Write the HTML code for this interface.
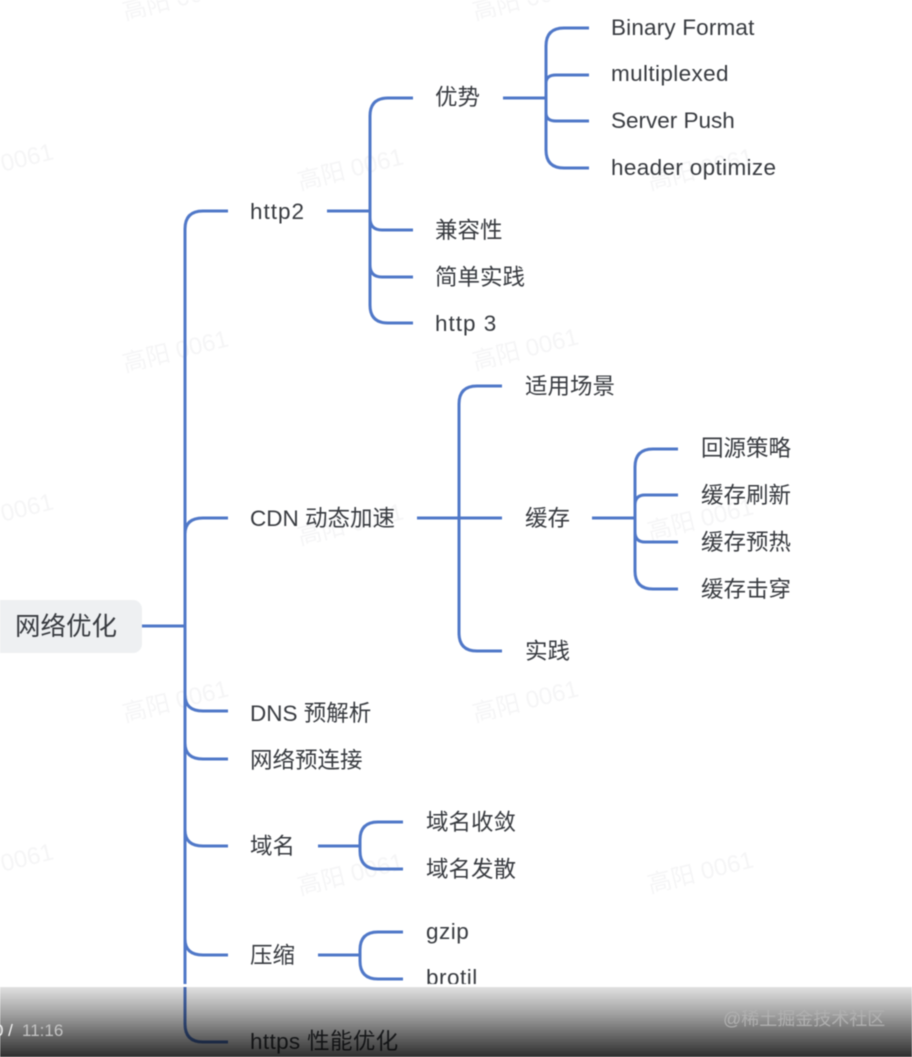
<!DOCTYPE html>
<html>
<head>
<meta charset="utf-8">
<style>
html,body{margin:0;padding:0;background:#fff;width:912px;height:1057px;overflow:hidden}
svg{display:block;position:absolute;left:0;top:0}
.d{filter:blur(.55px)}
.l{fill:none;stroke:#5078c8;stroke-width:3}
.t text{font-family:"Liberation Sans","Noto Sans CJK SC",sans-serif;font-size:22.5px;fill:#383b40}
.w text{font-family:"Liberation Sans","Noto Sans CJK SC",sans-serif;font-size:24px;fill:#f5f5f6}
.o text{font-family:"Liberation Sans","Noto Sans CJK SC",sans-serif}
</style>
</head>
<body>
<svg class="d" width="912" height="1057" viewBox="0 0 912 1057" xmlns="http://www.w3.org/2000/svg">
<defs>
<linearGradient id="g" x1="0" y1="0" x2="0" y2="1">
<stop offset="0" stop-color="#000" stop-opacity=".12"/>
<stop offset=".4" stop-color="#000" stop-opacity=".38"/>
<stop offset="1" stop-color="#000" stop-opacity=".82"/>
</linearGradient>
</defs>
<g class="w">
<text transform="translate(125,20) rotate(-14)">高阳 0061</text>
<text transform="translate(475,20) rotate(-14)">高阳 0061</text>
<text transform="translate(-50,185) rotate(-14)">高阳 0061</text>
<text transform="translate(300,190) rotate(-14)">高阳 0061</text>
<text transform="translate(650,190) rotate(-14)">高阳 0061</text>
<text transform="translate(125,372) rotate(-14)">高阳 0061</text>
<text transform="translate(475,370) rotate(-14)">高阳 0061</text>
<text transform="translate(-50,535) rotate(-14)">高阳 0061</text>
<text transform="translate(300,545) rotate(-14)">高阳 0061</text>
<text transform="translate(650,540) rotate(-14)">高阳 0061</text>
<text transform="translate(125,722) rotate(-14)">高阳 0061</text>
<text transform="translate(475,722) rotate(-14)">高阳 0061</text>
<text transform="translate(-50,885) rotate(-14)">高阳 0061</text>
<text transform="translate(300,895) rotate(-14)">高阳 0061</text>
<text transform="translate(650,893) rotate(-14)">高阳 0061</text>
</g>

<rect x="-12" y="600" width="154" height="53" rx="9" fill="#eef0f2"/>
<text x="15" y="635" font-family="'Liberation Sans','Noto Sans CJK SC',sans-serif" font-size="25.5px" fill="#383b40">网络优化</text>

<g class="l">
<!-- root -->
<path d="M142 626H185"/>
<path d="M228 211H203Q185 211 185 229V1024Q185 1042 203 1042H228"/>
<path d="M228 518H203Q185 518 185 534"/>
<path d="M185 695Q185 711 203 711H228"/>
<path d="M185 743Q185 759 203 759H228"/>
<path d="M185 830Q185 846 203 846H228"/>
<path d="M185 939Q185 955 203 955H228"/>
<!-- http2 -->
<path d="M327 211H370"/>
<path d="M413 98H388Q370 98 370 116V305Q370 323 388 323H413"/>
<path d="M370 218Q370 230 382 230H413"/>
<path d="M370 265Q370 277 382 277H413"/>
<!-- 优势 -->
<path d="M503 98H546"/>
<path d="M589 28H564Q546 28 546 46V150Q546 168 564 168H589"/>
<path d="M546 83Q546 75 556 75H589"/>
<path d="M546 113Q546 121 556 121H589"/>
<!-- CDN -->
<path d="M417 518H502"/>
<path d="M502 386H477Q459 386 459 404V633Q459 651 477 651H502"/>
<!-- 缓存 -->
<path d="M592 518H635"/>
<path d="M678 449H653Q635 449 635 467V571Q635 589 653 589H678"/>
<path d="M635 505Q635 495 645 495H678"/>
<path d="M635 532Q635 542 645 542H678"/>
<!-- 域名 -->
<path d="M318 846H360"/>
<path d="M403 822H378Q360 822 360 840V851Q360 869 378 869H403"/>
<!-- 压缩 -->
<path d="M318 955H360"/>
<path d="M403 932H378Q360 932 360 950V961Q360 979 378 979H403"/>
</g>

<g class="t">
<text x="250" y="219" letter-spacing="1">http2</text>
<text x="250" y="526">CDN 动态加速</text>
<text x="250" y="721">DNS 预解析</text>
<text x="250" y="768">网络预连接</text>
<text x="250" y="854">域名</text>
<text x="250" y="963">压缩</text>
<text x="250" y="1049" letter-spacing=".35">https 性能优化</text>

<text x="435" y="105">优势</text>
<text x="435" y="238">兼容性</text>
<text x="435" y="285">简单实践</text>
<text x="435" y="331" letter-spacing="1">http 3</text>

<text x="611" y="35" letter-spacing=".17">Binary Format</text>
<text x="611" y="81" letter-spacing=".37">multiplexed</text>
<text x="611" y="128">Server Push</text>
<text x="611" y="175" letter-spacing=".35">header optimize</text>

<text x="525" y="394">适用场景</text>
<text x="525" y="526">缓存</text>
<text x="525" y="659">实践</text>

<text x="701" y="456">回源策略</text>
<text x="701" y="503">缓存刷新</text>
<text x="701" y="550">缓存预热</text>
<text x="701" y="597">缓存击穿</text>

<text x="426" y="830">域名收敛</text>
<text x="426" y="877">域名发散</text>
<text x="426" y="939" letter-spacing=".5">gzip</text>
<text x="426" y="985" letter-spacing=".5">brotil</text>
</g>

<rect x="0" y="987" width="912" height="70" fill="url(#g)"/>
<rect x="0" y="984" width="912" height="3" fill="#fff"/>

<g class="o">
<text x="-6" y="1036" font-size="17px" fill="#f4f4f4">0 /</text>
<text x="22" y="1036" font-size="17px" fill="#c4c4c4">11:16</text>
<text x="723" y="1025" font-size="18px" fill="#b0b0b0">@稀土掘金技术社区</text>
</g>
</svg>
</body>
</html>
